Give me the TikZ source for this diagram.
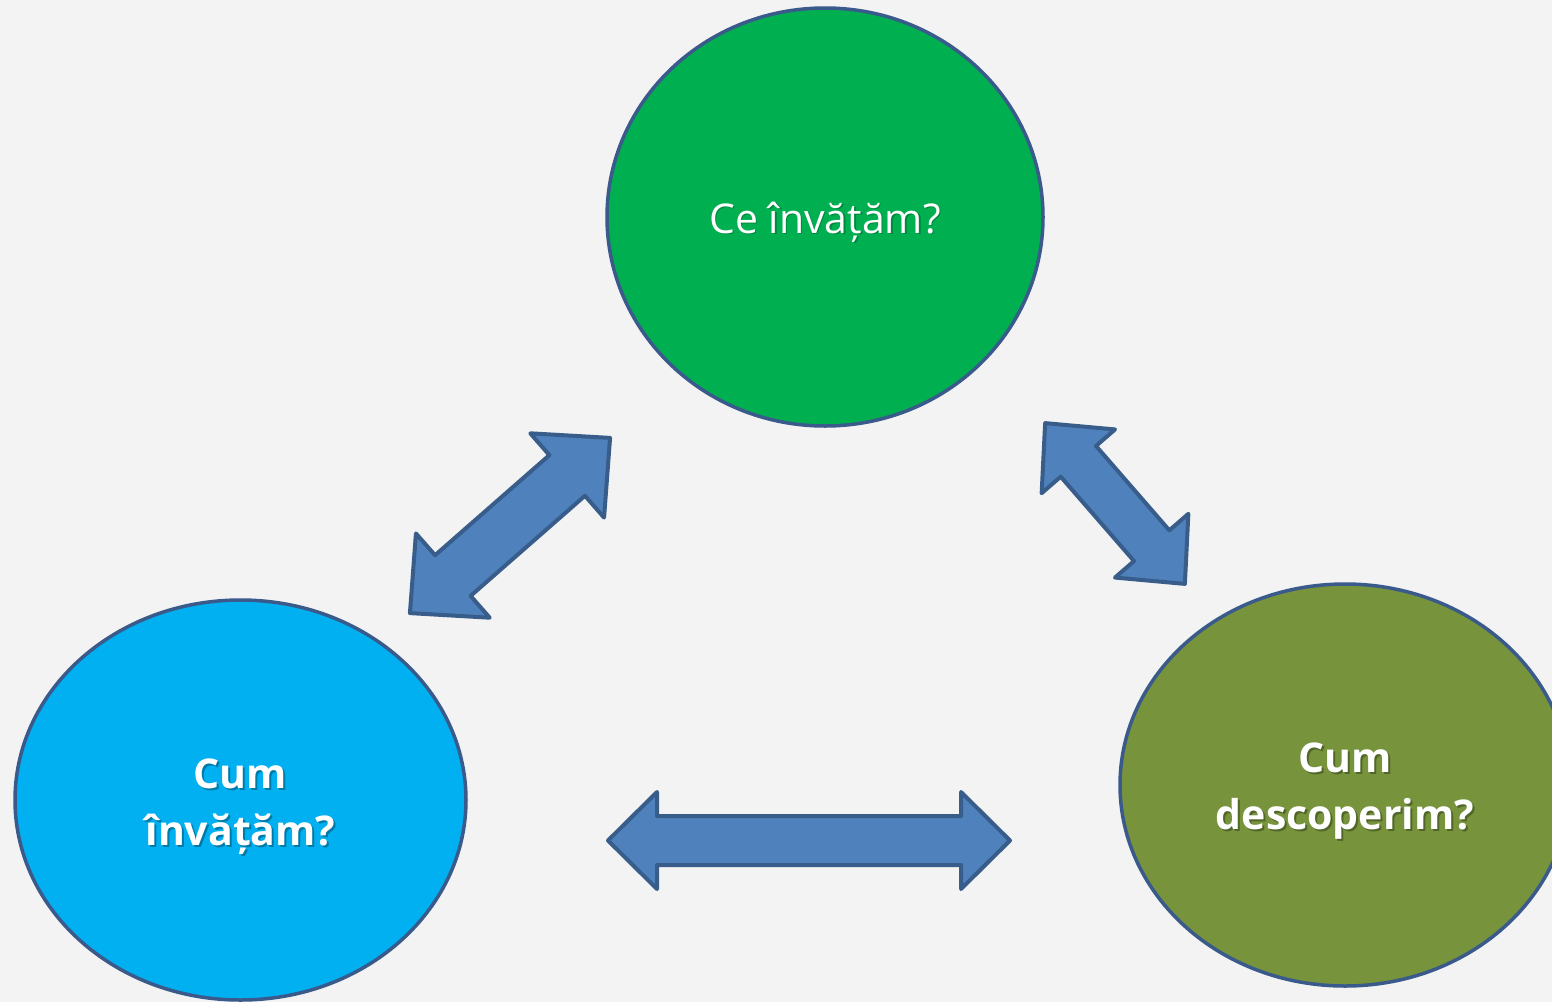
\documentclass[tikz,border=0pt]{standalone}
\usepackage{fontspec}
\setmainfont{Open Sans}
\usetikzlibrary{shapes.geometric}
\definecolor{bg}{HTML}{F3F3F3}
\definecolor{cgreen}{HTML}{00B050}
\definecolor{cblue}{HTML}{00B0F0}
\definecolor{colive}{HTML}{77933C}
\definecolor{edge}{HTML}{3A5A8C}
\definecolor{afill}{HTML}{4F81BD}
\definecolor{aedge}{HTML}{385D8A}
\tikzset{
  bubble/.style={ellipse, draw=edge, line width=3.5pt, inner sep=0pt},
  txt/.style={inner sep=0pt, text=white, align=center, font=\fontsize{41}{57}\selectfont},
  shadowtxt/.style={txt, text=black, text opacity=0.3},
  dblarrowstyle/.style={fill=afill, draw=aedge, line width=4pt, line join=round}
}
\newcommand\mydblarrow[7]{% cx cy angle L H h S
  \begin{scope}[shift={(#1,#2)}, rotate=#3]
    \path[dblarrowstyle] (-#4/2,0) -- (-#4/2+#6,-#5) -- (-#4/2+#6,-#7) -- (#4/2-#6,-#7)
      -- (#4/2-#6,-#5) -- (#4/2,0) -- (#4/2-#6,#5) -- (#4/2-#6,#7) -- (-#4/2+#6,#7)
      -- (-#4/2+#6,#5) -- cycle;
  \end{scope}}
\begin{document}
\begin{tikzpicture}[x=1pt,y=-1pt]
\useasboundingbox (0,0) rectangle (1552,1002);
\clip (0,0) rectangle (1552,1002);
\fill[bg] (0,0) rectangle (1552,1002);
% ellipses
\node[bubble, fill=cgreen, minimum width=436pt, minimum height=418pt] (ce) at (825,217) {};
\node[bubble, fill=cblue, minimum width=451pt, minimum height=400pt] (cumi) at (240.5,800) {};
\node[bubble, fill=colive, minimum width=450pt, minimum height=402pt] (cumd) at (1345,785) {};
% texts with shadows
\node[shadowtxt, text opacity=0.22] (ces) at ([shift={(1.5,6.5)}]ce.center) {Ce învățăm?};
\node[txt] (cet) at ([shift={(0,5)}]ce.center) {Ce învățăm?};
\node[shadowtxt, font=\fontsize{41}{57}\selectfont\bfseries] (cumis) at ([shift={(2,9)}]cumi.center) {Cum\\învățăm?};
\node[txt, font=\fontsize{41}{57}\selectfont\bfseries] (cumit) at ([shift={(0,7)}]cumi.center) {Cum\\învățăm?};
\node[shadowtxt, font=\fontsize{41}{57}\selectfont\bfseries] (cumds) at ([shift={(2,8)}]cumd.center) {Cum\\descoperim?};
\node[txt, font=\fontsize{41}{57}\selectfont\bfseries] (cumdt) at ([shift={(0,6)}]cumd.center) {Cum\\descoperim?};
% arrows
\mydblarrow{510}{525.5}{41.2}{266}{56}{57}{27}
\mydblarrow{1115}{503.5}{-49}{213}{48.6}{50.6}{23.4}
\mydblarrow{809}{840.5}{0}{402}{48.5}{49}{24.5}
\end{tikzpicture}
\end{document}
